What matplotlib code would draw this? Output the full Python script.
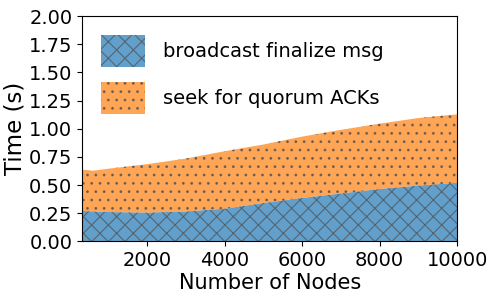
import numpy as np
import matplotlib
matplotlib.use("Agg")
import matplotlib.pyplot as plt

nodes = [320, 600, 1000, 2000, 3000, 4000, 5000, 6000, 7000, 8000, 9000, 10000]
broadcast = [0.27, 0.265, 0.26, 0.255, 0.265, 0.29, 0.34, 0.385, 0.425, 0.465, 0.495, 0.52]
total = [0.637, 0.627, 0.645, 0.685, 0.735, 0.80, 0.86, 0.93, 0.99, 1.045, 1.095, 1.128]
quorum = [t - b for t, b in zip(total, broadcast)]
labels = ["broadcast finalize msg", "seek for quorum ACKs"]

plt.rcParams["hatch.linewidth"] = 0.8
fig = plt.figure(figsize=(4.98, 2.99), dpi=100)
ax = fig.add_axes([0.165, 0.193, 0.753, 0.753])

polys = ax.stackplot(nodes, broadcast, quorum, labels=labels, alpha=0.7,
                     colors=["#1f77b4", "#ff7f0e"])
for p, h in zip(polys, ["xx", ".."]):
    p.set_hatch(h)
    p.set_edgecolor("#4d4d4d")
    p.set_linewidth(0)

ax.set_xlim(nodes[0], nodes[-1])
ax.set_ylim(0, 2)
ax.set_xticks([2000, 4000, 6000, 8000, 10000])
ax.set_yticks(np.arange(0, 2.01, 0.25))
ax.tick_params(labelsize=14)
ax.set_xlabel("Number of Nodes", fontsize=15, labelpad=2)
ax.set_ylabel("Time (s)", fontsize=16.5, labelpad=1.5)
ax.legend(loc="upper left", fontsize=14, frameon=False, handlelength=2.3,
          handleheight=2.2, borderaxespad=0.55, labelspacing=0.75,
          handletextpad=0.9)

fig.savefig("out.png", dpi=100)
